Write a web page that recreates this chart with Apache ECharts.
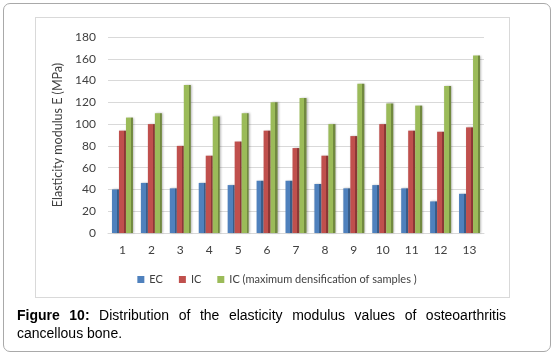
<!DOCTYPE html>
<html>
<head>
<meta charset="utf-8">
<script src="https://cdn.jsdelivr.net/npm/echarts@6/dist/echarts.min.js"></script>
<style>
  body { margin: 0; background: #fff; }
  #frame { position: absolute; left: 3px; top: 3px; width: 546px; height: 347px; border: 1.5px solid #a9a9a9; border-radius: 7px; }
  #box { position: absolute; left: 35px; top: 17px; width: 473px; height: 279px; border: 1px solid #d9d9d9; }
  #main { position: absolute; left: 0; top: 0; width: 554px; height: 356px; }
  #caption { position: absolute; left: 17px; top: 306px; width: 489px; font-family: "Liberation Sans", Arial, sans-serif; font-size: 14px; line-height: 18px; text-align: justify; color: #000; }
</style>
</head>
<body>
<div id="frame"></div>
<div id="box"></div>
<div id="main"></div>
<div id="caption"><b>Figure 10:</b> Distribution of the elasticity modulus values of osteoarthritis cancellous bone.</div>
<script>
// sample numbers
const samples = ['1', '2', '3', '4', '5', '6', '7', '8', '9', '10', '11', '12', '13'];
// EC
const ecValues = [40, 46, 41, 46, 44, 48, 48, 45, 41, 44, 41, 29, 36];
// IC
const icValues = [94, 100, 80, 71, 84, 94, 78, 71, 89, 100, 94, 93, 97];
// IC (maximum densification of samples)
const icMaxValues = [106, 110, 136, 107, 110, 120, 124, 100, 137, 119, 117, 135, 163];

const seriesNames = ['EC', 'IC', 'IC (maximum densification of samples )'];
const colors = ['#4f81bd', '#c0504d', '#9bbb59'];
const sides = ['#385d8a', '#8c3836', '#71893f'];

let myChart = echarts.init(document.getElementById('main'));

// fake 3d: darker strip on the right side of each bar
function barColor(i) {
    return new echarts.graphic.LinearGradient(0, 0, 1, 0, [
        { offset: 0, color: colors[i] },
        { offset: 0.7, color: colors[i] },
        { offset: 0.7, color: sides[i] },
        { offset: 1, color: sides[i] }
    ]);
}

const data = [ecValues, icValues, icMaxValues];
const series = data.map(function (vals, i) {
    return {
        name: seriesNames[i],
        type: 'bar',
        data: vals,
        barWidth: 7,
        barGap: '0%',
        itemStyle: {
            color: barColor(i),
            shadowColor: 'rgba(0,0,0,0.25)',
            shadowBlur: 2,
            shadowOffsetX: 1
        }
    };
});

myChart.setOption({
    animation: false,
    textStyle: { fontFamily: 'Lato' },
    legend: {
        bottom: 66,
        left: 'center',
        itemWidth: 7,
        itemHeight: 7,
        itemGap: 16,
        icon: 'rect',
        textStyle: { fontSize: 11, color: '#404040', fontFamily: 'Lato' },
        data: seriesNames.map(function (n, i) {
            return { name: n, itemStyle: { color: colors[i] } };
        })
    },
    grid: { left: 108, right: 70, top: 37, bottom: 123 },
    xAxis: {
        type: 'category',
        data: samples,
        axisLine: { lineStyle: { color: '#d9d9d9' } },
        axisTick: { show: false },
        axisLabel: { color: '#404040', fontSize: 12, margin: 11 }
    },
    yAxis: {
        type: 'value',
        min: 0,
        max: 180,
        interval: 20,
        name: 'Elasticity modulus E (MPa)',
        nameLocation: 'middle',
        nameGap: 40,
        nameTextStyle: { color: '#404040', fontSize: 12.5, fontFamily: 'Lato' },
        axisLabel: { color: '#404040', fontSize: 12, margin: 12 },
        splitLine: { lineStyle: { color: '#d9d9d9' } }
    },
    series: series
});
</script>
</body>
</html>
